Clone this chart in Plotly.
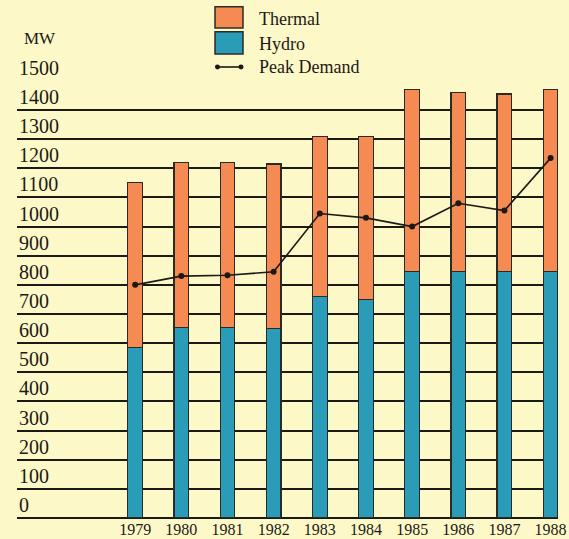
import plotly.graph_objects as go

# Generating capacity and peak demand, in MW
years = ["1979", "1980", "1981", "1982", "1983", "1984", "1985", "1986", "1987", "1988"]
hydro = [585, 655, 655, 650, 760, 750, 845, 845, 845, 845]
thermal = [565, 565, 565, 565, 550, 560, 625, 615, 610, 625]
peak_demand = [800, 830, 833, 845, 1045, 1030, 1000, 1080, 1055, 1235]

y_ticks = list(range(0, 1600, 100))

BG = "#fcf8c8"
ORANGE = "#f58b52"
BLUE = "#2b9cb8"
INK = "#1c1a16"
SERIF = "Liberation Serif, Times New Roman, serif"

fig = go.Figure()

fig.add_trace(go.Bar(
    x=years, y=hydro, name="Hydro", width=0.32,
    marker=dict(color=BLUE, line=dict(color="#2a2a26", width=1.2)),
))
fig.add_trace(go.Bar(
    x=years, y=thermal, name="Thermal", width=0.32,
    marker=dict(color=ORANGE, line=dict(color="#2a2a26", width=1.2)),
))
fig.add_trace(go.Scatter(
    x=years, y=peak_demand, name="Peak Demand", mode="lines+markers",
    line=dict(color=INK, width=1.6),
    marker=dict(color=INK, size=6),
))

# Hand-built key above the plot area
shapes = [
    dict(type="rect", xref="paper", yref="paper", x0=0.366, x1=0.4177, y0=1.119, y1=1.167,
         fillcolor=ORANGE, line=dict(color="#2a2a26", width=1.5)),
    dict(type="rect", xref="paper", yref="paper", x0=0.366, x1=0.4177, y0=1.0595, y1=1.110,
         fillcolor=BLUE, line=dict(color="#2a2a26", width=1.5)),
    dict(type="line", xref="paper", yref="paper", x0=0.370, x1=0.414, y0=1.0297, y1=1.0297,
         line=dict(color=INK, width=1.6)),
    dict(type="circle", xref="paper", yref="paper", x0=0.366, x1=0.3752, y0=1.0240, y1=1.0354,
         fillcolor=INK, line=dict(color=INK, width=0)),
    dict(type="circle", xref="paper", yref="paper", x0=0.4095, x1=0.4187, y0=1.0240, y1=1.0354,
         fillcolor=INK, line=dict(color=INK, width=0)),
]

legend_font = dict(family=SERIF, size=18, color=INK)
annotations = [
    dict(text="Thermal", xref="paper", yref="paper", x=0.4436, y=1.1396,
         xanchor="left", yanchor="middle", showarrow=False, font=legend_font),
    dict(text="Hydro", xref="paper", yref="paper", x=0.4436, y=1.0824,
         xanchor="left", yanchor="middle", showarrow=False, font=legend_font),
    dict(text="Peak Demand", xref="paper", yref="paper", x=0.4436, y=1.0297,
         xanchor="left", yanchor="middle", showarrow=False, font=legend_font),
    dict(text="MW", xref="paper", yref="paper", x=0.009, y=1.0938,
         xanchor="left", yanchor="middle", showarrow=False,
         font=dict(family=SERIF, size=17, color=INK)),
]

# Value labels sit just above each grid rule, flush with its left end
for v in y_ticks:
    annotations.append(dict(
        text=str(v), xref="paper", yref="y", x=0.0, y=v,
        xanchor="left", yanchor="bottom", showarrow=False, yshift=0,
        font=dict(family=SERIF, size=20, color=INK),
    ))

fig.update_layout(
    width=569, height=539,
    margin=dict(l=17, r=11, t=80, b=21),
    paper_bgcolor=BG, plot_bgcolor=BG,
    barmode="stack",
    showlegend=False,
    shapes=shapes,
    annotations=annotations,
    xaxis=dict(
        type="category", range=[-2.56, 9.16], automargin=False,
        showgrid=False, showline=False, zeroline=False,
        ticks="", ticklabelstandoff=0,
        tickfont=dict(family=SERIF, size=16, color=INK),
    ),
    yaxis=dict(
        range=[0, 1503], tickvals=y_ticks, automargin=False,
        showgrid=True, gridcolor=INK, gridwidth=2,
        zeroline=True, zerolinecolor=INK, zerolinewidth=2,
        showline=False, ticks="", showticklabels=False,
    ),
)

fig.write_html("out.html")
